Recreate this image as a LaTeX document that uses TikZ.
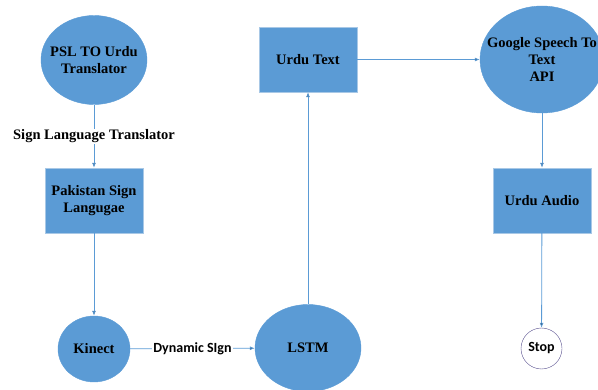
\documentclass[tikz,border=0pt]{standalone}
\usepackage{fontspec}
\setmainfont{Liberation Serif}
\newfontfamily\calibri{Carlito}
\usetikzlibrary{shapes.geometric,arrows.meta}

\definecolor{officeblue}{HTML}{5B9BD5}
\definecolor{boxedge}{HTML}{A8C8E6}
\definecolor{stopedge}{HTML}{5A5290}

\tikzstyle{blueellipse} = [ellipse, fill = officeblue, draw = officeblue, inner sep = 0pt]
\tikzstyle{ellipsetext} = [align = center, inner sep = 0pt, font = \fontsize{14.5}{17}\selectfont\bfseries]
\tikzstyle{bluebox} = [rectangle, fill = officeblue, draw = boxedge, inner sep = 0pt, align = center, minimum width = 98pt, minimum height = 65pt, font = \fontsize{14.5}{17}\selectfont\bfseries]
\tikzstyle{stopnode} = [circle, draw = stopedge, fill = white, minimum size = 41pt, inner sep = 0pt, font = \calibri\fontsize{14}{16}\selectfont\bfseries]
\tikzstyle{flowlabel} = [fill = white, inner sep = 1pt]

\begin{document}
\begin{tikzpicture}[x = 1pt, y = -1pt, >={Latex[length=5pt,width=4pt]}]
			\useasboundingbox (0,0) rectangle (598,390);
			\node[blueellipse, minimum width = 106pt, minimum height = 89pt] (psl) at (94,60) {};
			\node[ellipsetext] at (psl) {PSL TO Urdu\\Translator};
			\node[bluebox] (psign) at (94,200.5) {Pakistan Sign\\Langugae};
			\node[blueellipse, minimum width = 72pt, minimum height = 66pt] (kinect) at (94,349) {};
			\node[ellipsetext] at (kinect) {Kinect};
			\node[blueellipse, minimum width = 106pt, minimum height = 87pt] (lstm) at (308,348) {};
			\node[ellipsetext] at (lstm) {LSTM};
			\node[bluebox] (utext) at (308,59.5) {Urdu Text};
			\node[blueellipse, minimum width = 124pt, minimum height = 107pt] (google) at (542,59.5) {};
			\node[ellipsetext] at (google) {Google Speech To\\Text\\API};
			\node[bluebox] (uaudio) at (542,200.5) {Urdu Audio};
			\node[stopnode] (stop) at (541.5,348.5) {Stop};
			\path[->, draw = officeblue, line width = 0.8pt]
			(psl) edge node[flowlabel, font = \fontsize{14.5}{17}\selectfont\bfseries] {Sign Language Translator} (psign)
			(psign) edge (kinect)
			(kinect) edge node[flowlabel, font = \calibri\fontsize{14}{16}\selectfont\bfseries] {Dynamic SIgn} (lstm)
			(lstm) edge (utext)
			(utext) edge (google)
			(google) edge (uaudio)
			(uaudio) edge (stop);
		\end{tikzpicture}
\end{document}
